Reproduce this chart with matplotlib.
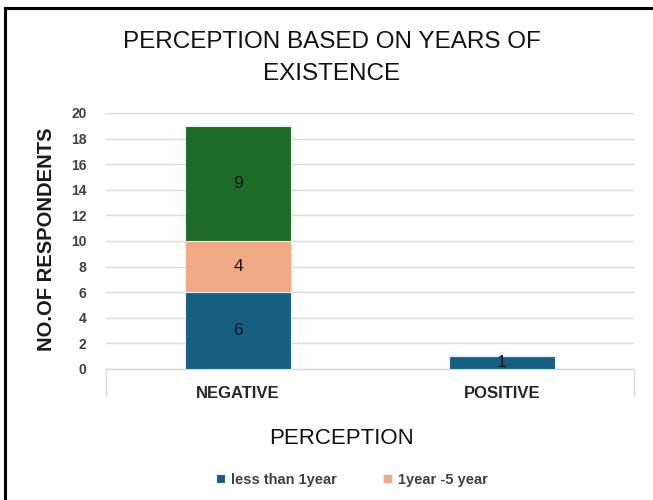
import matplotlib
matplotlib.use("Agg")
import matplotlib.pyplot as plt
from matplotlib.patches import Rectangle
import numpy as np

plt.rcParams['font.family'] = ['Liberation Sans', 'DejaVu Sans']

# respondents per perception, split by years of existence
categories = ['NEGATIVE', 'POSITIVE']
series_names = ['less than 1year', '1year -5 year', 'above 5 year']
less_than_1 = [6, 1]
one_to_five = [4, 0]
above_five = [9, 0]
yticks = list(range(0, 21, 2))

colors = ['#175f82', '#f0a984', '#1e6b27']
grey = '#404040'

fig = plt.figure(figsize=(6.53, 5.0), dpi=100)
ax = fig.add_axes([106 / 653, 131 / 500, 528 / 653, 256 / 500])

x = np.arange(len(categories))
width = 0.4
bottom = np.zeros(len(categories))
for name, vals, col in zip(series_names, [less_than_1, one_to_five, above_five], colors):
    vals = np.array(vals, dtype=float)
    ax.bar(x, vals, width, bottom=bottom, color=col, edgecolor='#e8ecef',
           linewidth=0.8, label=name, zorder=3)
    for xi, v, b in zip(x, vals, bottom):
        if v > 0:
            ax.text(xi, b + v / 2, str(int(v)), ha='center', va='center',
                    fontsize=12.5, color='#141414', zorder=4)
    bottom += vals

ax.set_xlim(-0.5, 1.5)
ax.set_ylim(0, 20)
ax.set_yticks(yticks)
ax.yaxis.grid(True, color='#d9d9d9', linewidth=1)
ax.set_axisbelow(True)
for s in ['top', 'right', 'left']:
    ax.spines[s].set_visible(False)
ax.spines['bottom'].set_color('#d9d9d9')
ax.spines['bottom'].set_linewidth(1)

ax.tick_params(axis='y', length=0, pad=14, labelsize=10, labelcolor=grey)
for lbl in ax.get_yticklabels():
    lbl.set_fontweight('bold')

ax.set_xticks(x)
ax.set_xticklabels(categories, fontsize=12, fontweight='bold', color='#262626')
ax.tick_params(axis='x', length=0, pad=12)
# category boundary ticks
ax.set_xticks([-0.5, 1.5], minor=True)
ax.tick_params(axis='x', which='minor', length=19.5, width=1, color='#d9d9d9')

fig.text(47 / 653, (500 - 239) / 500, 'NO.OF RESPONDENTS', rotation=90,
         ha='center', va='center', fontsize=14.5, fontweight='bold', color='#1a1a1a')

fig.text(332 / 653, (500 - 42) / 500, 'PERCEPTION BASED ON YEARS OF',
         ha='center', va='center', fontsize=17.5, color='#111111')
fig.text(332 / 653, (500 - 74) / 500, 'EXISTENCE',
         ha='center', va='center', fontsize=17.5, color='#111111')
fig.text(341 / 653, (500 - 438) / 500, 'PERCEPTION',
         ha='center', va='center', fontsize=16, color='#111111')

# legend row holds the first two series
handles, labels = ax.get_legend_handles_labels()
leg = fig.legend(handles[:2], labels[:2], loc='center', ncol=2,
                 bbox_to_anchor=(352 / 653, (500 - 480) / 500),
                 frameon=False, fontsize=10.5, handlelength=0.6, handleheight=0.6,
                 handletextpad=0.4, columnspacing=3.2)
for t in leg.get_texts():
    t.set_fontweight('bold')
    t.set_color(grey)

# outer frame
fig.add_artist(Rectangle((5 / 653, -0.2), 1.2, (500 - 8) / 500 + 0.2,
                         transform=fig.transFigure, fill=False,
                         edgecolor='black', linewidth=2.2))

fig.savefig('out.png', dpi=100)
